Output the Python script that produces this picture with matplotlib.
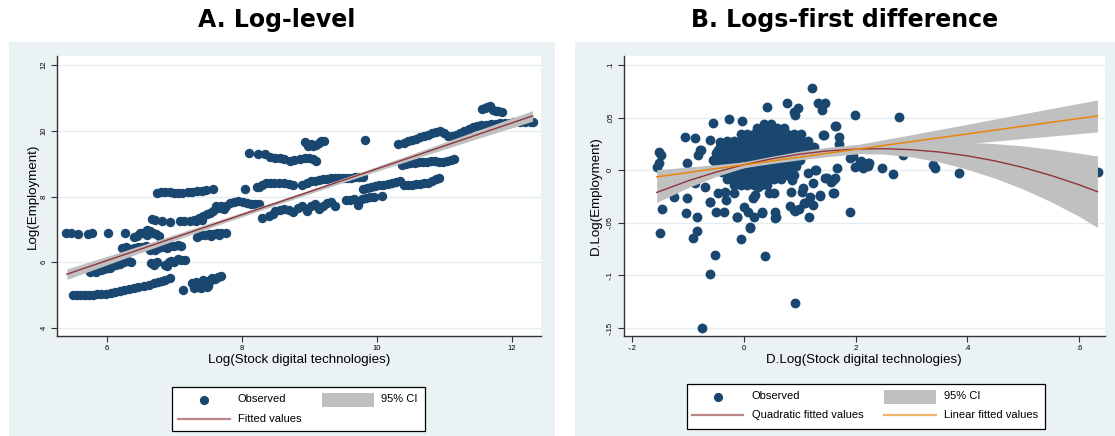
import numpy as np
import matplotlib
matplotlib.use('Agg')
import matplotlib.pyplot as plt
from matplotlib.patches import Rectangle
from matplotlib.lines import Line2D

plt.rcParams['font.family'] = ['Liberation Sans', 'DejaVu Sans']

W, H = 1115, 436

# ---- panel A : log-level, observed points (x, y)
a_obs = [
    # bottom strand
    (5.50, 5.00), (5.56, 5.01), (5.62, 5.00), (5.68, 5.02), (5.74, 5.00), (5.80, 5.02), (5.86, 5.03),
    (5.92, 5.04), (5.99, 5.05), (6.06, 5.07), (6.12, 5.10), (6.19, 5.12), (6.25, 5.16), (6.33, 5.19),
    (6.40, 5.23), (6.47, 5.26), (6.55, 5.29), (6.63, 5.31), (6.70, 5.36), (6.76, 5.39), (6.82, 5.43),
    (6.87, 5.46), (6.94, 5.51),
    (7.13, 5.17), (7.26, 5.36), (7.29, 5.21), (7.33, 5.40), (7.38, 5.36), (7.40, 5.22), (7.43, 5.45),
    (7.46, 5.30), (7.50, 5.27), (7.53, 5.47), (7.56, 5.51), (7.60, 5.50), (7.65, 5.54), (7.69, 5.58),
    (7.40, 5.28), (7.48, 5.25), (7.52, 5.40), (7.36, 5.25),
    # strands around 6
    (5.75, 5.70), (5.80, 5.74), (5.86, 5.76), (5.91, 5.78), (5.96, 5.80), (6.02, 5.84), (6.08, 5.88),
    (6.14, 5.92), (6.20, 5.96), (6.26, 6.00), (6.32, 6.03), (6.36, 6.01), (5.84, 5.72), (6.05, 5.82),
    (6.22, 6.42), (6.28, 6.46), (6.34, 6.40), (6.40, 6.44), (6.46, 6.48), (6.52, 6.46), (6.58, 6.50),
    (6.64, 6.38), (6.70, 6.42), (6.76, 6.44), (6.82, 6.46), (6.88, 6.48), (6.94, 6.50), (7.00, 6.50),
    (7.06, 6.52), (7.10, 6.50), (6.72, 6.36), (6.90, 6.42),
    (6.66, 5.98), (6.70, 5.92), (6.74, 6.02), (6.86, 5.93), (6.90, 5.88), (6.95, 6.04), (7.00, 6.00),
    (7.05, 6.10), (7.10, 6.06), (7.16, 6.07), (6.92, 6.00),
    # strands around 7
    (5.40, 6.90), (5.47, 6.88), (5.58, 6.86), (5.73, 6.87), (5.78, 6.88), (6.02, 6.89), (6.27, 6.88),
    (6.40, 6.76), (6.45, 6.80), (6.49, 6.90), (6.53, 6.88), (6.59, 6.98), (6.64, 6.95), (6.69, 6.88),
    (6.73, 6.85), (6.60, 6.82), (6.78, 6.80),
    (6.67, 7.31), (6.72, 7.30), (6.82, 7.26), (6.94, 7.22), (7.09, 7.25), (7.15, 7.27), (7.24, 7.27),
    (7.33, 7.26), (7.41, 7.28),
    (7.30, 7.30), (7.36, 7.36), (7.42, 7.42), (7.48, 7.46), (7.53, 7.49), (7.58, 7.55), (7.64, 7.64),
    (7.70, 7.70), (7.76, 7.72), (7.83, 7.79), (7.89, 7.82), (7.95, 7.86), (8.02, 7.84), (8.08, 7.80),
    (8.14, 7.78), (8.20, 7.77), (8.25, 7.76), (7.62, 7.70), (7.68, 7.66), (7.74, 7.62),
    (7.34, 6.78), (7.40, 6.82), (7.46, 6.84), (7.52, 6.85), (7.58, 6.86), (7.64, 6.88), (7.70, 6.90),
    (7.76, 6.88), (7.55, 6.80), (7.67, 6.82),
    # strand at 8.15 (left)
    (6.75, 8.12), (6.80, 8.15), (6.87, 8.14), (6.94, 8.13), (7.00, 8.11), (7.06, 8.10), (7.12, 8.12),
    (7.20, 8.15), (7.27, 8.14), (7.34, 8.16), (7.41, 8.18), (7.47, 8.20), (7.58, 8.22), (8.05, 8.22),
    # strands 9 - 9.7
    (8.11, 9.31), (8.24, 9.30), (8.35, 9.28), (8.42, 9.20), (8.50, 9.18), (8.56, 9.16), (8.62, 9.15),
    (8.72, 9.08), (8.78, 9.12), (8.86, 9.14), (8.94, 9.16), (9.00, 9.18), (9.05, 9.14), (9.10, 9.08),
    (8.94, 9.66), (8.98, 9.55), (9.02, 9.60), (9.06, 9.52), (9.10, 9.58), (9.14, 9.62), (9.18, 9.70),
    (9.22, 9.70), (9.82, 9.72),
    # strands 8.3 - 8.6
    (8.22, 8.28), (8.26, 8.30), (8.30, 8.36), (8.36, 8.40), (8.42, 8.42), (8.48, 8.40), (8.55, 8.42),
    (8.62, 8.40), (8.70, 8.38), (8.76, 8.35),
    (8.90, 8.36), (8.96, 8.42), (9.02, 8.46), (9.08, 8.48), (9.14, 8.50), (9.20, 8.52), (9.26, 8.54),
    (9.32, 8.55), (9.38, 8.56), (9.44, 8.56), (9.50, 8.55), (9.56, 8.57), (9.62, 8.56), (9.68, 8.58),
    (9.74, 8.58), (9.80, 8.58),
    # strands 7.4 - 8.0 (middle)
    (8.30, 7.34), (8.40, 7.40), (8.46, 7.48), (8.50, 7.55), (8.56, 7.60), (8.62, 7.62), (8.70, 7.58),
    (8.76, 7.54), (8.84, 7.66), (8.90, 7.70), (8.96, 7.55), (9.02, 7.72), (9.08, 7.78), (9.14, 7.62),
    (9.20, 7.70), (9.26, 7.80), (9.32, 7.84), (9.38, 7.72),
    (9.54, 7.90), (9.60, 7.90), (9.67, 7.91), (9.72, 7.74), (9.78, 7.92), (9.84, 7.96), (9.90, 7.98),
    (9.96, 8.00), (10.08, 8.03),
    # right hand strands
    (9.80, 8.24), (9.86, 8.27), (9.92, 8.30), (9.98, 8.32), (10.04, 8.34), (10.10, 8.36), (10.16, 8.38),
    (10.22, 8.41), (10.28, 8.44), (10.34, 8.48), (10.40, 8.34), (10.46, 8.34), (10.52, 8.36),
    (10.58, 8.37), (10.64, 8.38), (10.70, 8.40), (10.76, 8.42), (10.82, 8.46), (10.88, 8.52),
    (10.93, 8.55),
    (10.37, 8.96), (10.44, 9.00), (10.50, 9.02), (10.56, 9.02), (10.62, 9.04), (10.68, 9.05),
    (10.74, 9.06), (10.80, 9.08), (10.86, 9.07), (10.92, 9.06), (10.98, 9.06), (11.04, 9.07),
    (11.10, 9.10), (11.15, 9.14),
    (10.32, 9.60), (10.40, 9.64), (10.46, 9.68), (10.52, 9.72), (10.58, 9.76), (10.64, 9.80),
    (10.70, 9.84), (10.76, 9.88), (10.82, 9.92), (10.88, 9.96), (10.94, 10.00), (11.00, 9.92),
    (11.06, 9.84), (11.12, 9.84), (11.18, 9.88), (11.24, 9.92), (11.30, 9.98), (11.36, 10.04),
    (11.42, 10.10), (11.48, 10.14), (11.55, 10.16), (11.62, 10.18), (11.69, 10.20), (11.76, 10.21),
    (11.83, 10.22), (11.90, 10.22), (11.97, 10.24), (12.04, 10.25), (12.12, 10.26), (12.20, 10.26),
    (12.28, 10.27), (12.32, 10.27),
    (11.56, 10.66), (11.60, 10.70), (11.64, 10.72), (11.68, 10.74), (11.72, 10.62), (11.76, 10.60),
    (11.80, 10.59), (11.85, 10.58),
]
a_fit_x = [5.41, 12.31]
a_fit_y = [5.64, 10.45]
a_ci_x = [5.41, 6.2, 7.0, 7.8, 8.8, 9.8, 10.6, 11.4, 12.31]
a_ci_y = [5.64, 6.19, 6.75, 7.31, 8.00, 8.70, 9.26, 9.82, 10.45]
a_ci_hw = [0.16, 0.12, 0.09, 0.068, 0.058, 0.068, 0.09, 0.12, 0.16]
a_xticks = [6, 8, 10, 12]
a_yticks = [4, 6, 8, 10, 12]

# ---- panel B : logs-first difference
b_obs = [
    (0.1225, 0.0779), (0.0764, 0.0643), (0.0417, 0.0599), (0.1332, 0.0637), (0.1460, 0.0643),
    (0.1395, 0.0573), (0.0890, 0.0557), (0.0966, 0.0589), (0.0913, 0.0526), (-0.0259, 0.0485),
    (-0.0038, 0.0472), (-0.0549, 0.0447), (0.1983, 0.0523), (0.2785, 0.0510), (0.1635, 0.0421),
    (0.1711, 0.0314), (0.1711, 0.0247), (0.1427, 0.0336), (-0.1054, 0.0314), (-0.0878, 0.0304),
    (-0.1522, 0.0177), (-0.1477, 0.0146), (-0.1553, 0.0035), (-0.1522, 0.0067), (-0.1017, 0.0067),
    (-0.0783, 0.0193), (-0.0815, 0.0146), (-0.0404, 0.0257), (-0.0609, 0.0288), (-0.0430, 0.0272),
    (-0.0776, 0.0193), (-0.0460, 0.0193), (0.1900, 0.0114), (0.1983, 0.0035), (0.2090, 0.0092),
    (0.2140, 0.0025), (0.2216, 0.0041), (0.2229, 0.0073), (0.2481, 0.0025), (0.2677, -0.0038),
    (0.2848, 0.0146), (0.3384, 0.0051), (0.3429, 0.0019), (0.3845, -0.0022), (0.6333, -0.0013),
    (0.1667, 0.0019), (0.1460, -0.0076), (0.1553, -0.0108), (0.1635, -0.0076), (0.1616, -0.0212),
    (0.1364, -0.0238), (0.1238, -0.0329), (0.1080, -0.0307), (0.1175, -0.0250), (0.1067, -0.0171),
    (0.1048, -0.0203), (0.0840, -0.0203), (0.0827, -0.0339), (0.0890, -0.0377), (0.0985, -0.0371),
    (0.1162, -0.0440), (0.1900, -0.0399), (0.0562, -0.0393), (0.0575, -0.0440), (0.0322, -0.0399),
    (0.0164, -0.0266), (0.0208, -0.0234), (0.0069, -0.0393), (0.0006, -0.0345), (0.0183, -0.0440),
    (-0.0120, -0.0440), (-0.0183, -0.0219), (-0.0322, -0.0282), (-0.0341, -0.0203), (-0.0360, -0.0393),
    (-0.0499, -0.0393), (-0.0467, -0.0219), (-0.0612, -0.0304), (-0.0688, -0.0155), (-0.0878, -0.0124),
    (-0.1244, -0.0250), (-0.1017, -0.0266), (-0.1465, -0.0371), (-0.1036, -0.0409), (-0.0840, -0.0447),
    (-0.1503, -0.0599), (-0.0834, -0.0577), (-0.0903, -0.0646), (0.0114, -0.0551), (-0.0044, -0.0653),
    (-0.0518, -0.0805), (0.0385, -0.0814), (-0.0600, -0.0988), (0.0922, -0.1258), (-0.0745, -0.1498),
    (0.0543, -0.0219), (0.0448, -0.0219), (0.0259, -0.0155), (0.1269, 0.0003), (0.0859, -0.0092),
    (0.0764, -0.0044), (0.0890, -0.0044), (0.1143, -0.0029), (0.1238, -0.0124), (-0.0609, -0.0298),
    (-0.0131, -0.0441), (0.0107, -0.0536), (0.0317, -0.0409), (0.0555, -0.0450), (0.0913, -0.0387),
    (0.1092, -0.0314), (0.1361, -0.0244), (0.1599, -0.0219), (0.1480, -0.0076), (0.1588, -0.0092),
    (0.1289, 0.0003), (0.1946, 0.0136), (0.2077, 0.0082), (0.2244, 0.0067), (0.2150, 0.0029),
    (0.1420, 0.0336), (0.1647, 0.0421),
]
# dense core of the cloud, row by row (y, x values)
b_core = [
    (0.044, [0.036, 0.048]),
    (0.040, [0.024, 0.036, 0.048, 0.060, 0.072]),
    (0.034, [-0.006, 0.006, 0.018, 0.030, 0.042, 0.054, 0.066, 0.078, 0.090, 0.102]),
    (0.028, [-0.030, -0.018, -0.006, 0.006, 0.018, 0.030, 0.042, 0.054, 0.066, 0.078, 0.090, 0.102, 0.114]),
    (0.022, [-0.042, -0.030, -0.018, -0.006, 0.006, 0.018, 0.030, 0.042, 0.054, 0.066, 0.078, 0.090,
             0.102, 0.114, 0.126]),
    (0.016, [-0.050, -0.038, -0.026, -0.014, -0.002, 0.010, 0.022, 0.034, 0.046, 0.058, 0.070, 0.082,
             0.094, 0.106, 0.118]),
    (0.010, [-0.056, -0.044, -0.032, -0.020, -0.008, 0.004, 0.016, 0.028, 0.040, 0.052, 0.064, 0.076,
             0.088, 0.100]),
    (0.004, [-0.050, -0.038, -0.026, -0.014, -0.002, 0.010, 0.022, 0.034, 0.046, 0.058, 0.070, 0.082, 0.094]),
    (-0.002, [-0.040, -0.028, -0.016, -0.004, 0.008, 0.020, 0.032, 0.044, 0.056, 0.068, 0.080]),
    (-0.008, [-0.030, -0.018, -0.006, 0.006, 0.018, 0.030, 0.042, 0.054, 0.066]),
    (-0.014, [-0.018, -0.006, 0.006, 0.018, 0.030, 0.042]),
]
b_lin_x = [-0.156, -0.1, -0.05, 0, 0.05, 0.1, 0.15, 0.2, 0.3, 0.4, 0.5, 0.633]
b_lin_y = [-0.0063, -0.0022, 0.0015, 0.0052, 0.0088, 0.0125, 0.0162, 0.0198, 0.0272, 0.0345, 0.0419, 0.0516]
b_lin_hw = [0.0068, 0.0052, 0.0038, 0.0028, 0.0024, 0.0026, 0.0033, 0.0043, 0.0066, 0.0092, 0.0118, 0.0152]
b_quad_x = [-0.156, -0.1, -0.05, 0, 0.05, 0.1, 0.15, 0.2, 0.25, 0.3, 0.35, 0.4, 0.45, 0.5, 0.55, 0.6, 0.633]
b_quad_y = [-0.0211, -0.0101, -0.0018, 0.0052, 0.0109, 0.0153, 0.0184, 0.0201, 0.0205, 0.0195, 0.0173,
            0.0137, 0.0088, 0.0026, -0.0050, -0.0138, -0.0204]
b_quad_hw = [0.0095, 0.0065, 0.0042, 0.0028, 0.0024, 0.0028, 0.0035, 0.0042, 0.0052, 0.0068, 0.0095,
             0.0128, 0.0165, 0.0205, 0.0250, 0.0300, 0.0340]
b_xticks = [-0.2, 0, 0.2, 0.4, 0.6]
b_xlabels = ['-.2', '0', '.2', '.4', '.6']
b_yticks = [-0.15, -0.1, -0.05, 0, 0.05, 0.1]
b_ylabels = ['-.15', '-.1', '-.05', '0', '.05', '.1']

navy = '#1a476f'
maroon = '#90353b'
orange = '#e8860c'
ci_gray = '#c0c0c0'
bg = '#eaf2f3'


def fx(x):
    return x / W


def fy(y):
    return 1 - y / H


fig = plt.figure(figsize=(W / 100, H / 100), dpi=100)
fig.patch.set_facecolor('white')

# stata-like graph regions (behind the axes)
fig.patches.append(Rectangle((fx(9), 0), 546 / W, 394 / H, transform=fig.transFigure,
                             facecolor=bg, edgecolor='none', zorder=-5))
fig.patches.append(Rectangle((fx(575), 0), 540 / W, 394 / H, transform=fig.transFigure,
                             facecolor=bg, edgecolor='none', zorder=-5))

axA = fig.add_axes([fx(57.3), fy(335.7), 483.7 / W, 279.7 / H])
axB = fig.add_axes([fx(623.5), fy(335.7), 481.5 / W, 279.7 / H])
axA.set_zorder(1)
axB.set_zorder(1)


def style(ax, xticks, xlabels, yticks, ylabels, xlim, ylim, xlabel, ylabel, ylab_x):
    ax.set_facecolor('white')
    ax.set_xlim(*xlim)
    ax.set_ylim(*ylim)
    ax.spines['top'].set_visible(False)
    ax.spines['right'].set_visible(False)
    for s in ['left', 'bottom']:
        ax.spines[s].set_color('#333333')
        ax.spines[s].set_linewidth(1.0)
    ax.set_xticks(xticks, xlabels)
    ax.set_yticks(yticks, ylabels)
    ax.tick_params(length=4.3, width=0.8, labelsize=5.5, pad=2.5, color='#333333')
    ax.tick_params(axis='y', labelrotation=90)
    for lbl in ax.get_yticklabels():
        lbl.set_va('center')
    ax.grid(axis='y', color='#e4eef0', lw=1.0)
    ax.set_axisbelow(True)
    ax.set_xlabel(xlabel, fontsize=9.6)
    ax.xaxis.set_label_coords(0.5, -(360 - 335.7) / 279.7)
    ax.xaxis.label.set_va('center')
    ax.set_ylabel(ylabel, fontsize=9.6)
    ax.yaxis.set_label_coords(ylab_x, 0.5)
    ax.yaxis.label.set_va('center')


# panel A
ax = axA
ax.scatter([p[0] for p in a_obs], [p[1] for p in a_obs], s=46, color=navy, lw=0, zorder=2)
ci_y = np.array(a_ci_y)
ci_hw = np.array(a_ci_hw)
ax.fill_between(a_ci_x, ci_y - ci_hw, ci_y + ci_hw, color=ci_gray, lw=0, zorder=3)
ax.plot(a_fit_x, a_fit_y, color=maroon, lw=1.0, zorder=4)
style(ax, a_xticks, [str(t) for t in a_xticks], a_yticks, [str(t) for t in a_yticks],
      (5.268, 12.434), (3.77, 12.27), 'Log(Stock digital technologies)', 'Log(Employment)',
      (33.3 - 57.3) / 483.7)

# panel B
ax = axB
bx = [p[0] for p in b_obs]
by = [p[1] for p in b_obs]
for yv, xs in b_core:
    bx += xs
    by += [yv] * len(xs)
ax.scatter(bx, by, s=50, color=navy, lw=0, zorder=2)
ly = np.array(b_lin_y)
lh = np.array(b_lin_hw)
qy = np.array(b_quad_y)
qh = np.array(b_quad_hw)
ax.fill_between(b_quad_x, qy - qh, qy + qh, color=ci_gray, lw=0, zorder=3)
ax.fill_between(b_lin_x, ly - lh, ly + lh, color=ci_gray, lw=0, zorder=3)
ax.plot(b_quad_x, b_quad_y, color=maroon, lw=1.0, zorder=4)
ax.plot(b_lin_x, b_lin_y, color=orange, lw=1.1, zorder=5)
style(ax, b_xticks, b_xlabels, b_yticks, b_ylabels,
      (-0.2155, 0.6465), (-0.1573, 0.1086), 'D.Log(Stock digital technologies)', 'D.Log(Employment)',
      (595.4 - 623.5) / 481.5)

# titles
fig.text(fx(276.7), fy(20), 'A. Log-level', fontsize=17, fontweight='bold',
         family='DejaVu Sans', ha='center', va='center')
fig.text(fx(845), fy(20), 'B. Logs-first difference', fontsize=17, fontweight='bold',
         family='DejaVu Sans', ha='center', va='center')


# legends (drawn in pixel positions like the stata legend boxes)
def box(x0, y0, x1, y1):
    fig.patches.append(Rectangle((fx(x0), fy(y1)), (x1 - x0) / W, (y1 - y0) / H,
                                 transform=fig.transFigure, facecolor='white',
                                 edgecolor='black', lw=0.9, zorder=5))


def marker(x, y):
    fig.add_artist(Line2D([fx(x)], [fy(y)], marker='o', ms=5.6, color=navy, ls='none',
                          transform=fig.transFigure, zorder=6))


def patch(x0, y0, x1, y1):
    fig.patches.append(Rectangle((fx(x0), fy(y1)), (x1 - x0) / W, (y1 - y0) / H,
                                 transform=fig.transFigure, facecolor=ci_gray,
                                 edgecolor='none', zorder=6))


def hline(x0, x1, y, c):
    fig.add_artist(Line2D([fx(x0), fx(x1)], [fy(y), fy(y)], color=c, lw=1.6, alpha=0.6,
                          transform=fig.transFigure, zorder=6))


def label(x, y, s):
    fig.text(fx(x), fy(y), s, fontsize=8, ha='left', va='center', zorder=7)


box(172.3, 386.7, 425, 431.3)
marker(204, 400)
label(238, 398.5, 'Observed')
patch(321.7, 392.7, 374, 406.7)
label(381, 398.5, '95% CI')
hline(178, 230, 419, maroon)
label(238, 418.5, 'Fitted values')

box(686.7, 384, 1045, 428.7)
marker(717.7, 396.7)
label(751.7, 395.5, 'Observed')
patch(884, 390, 935.7, 403.7)
label(944, 395.5, '95% CI')
hline(692, 743, 415.3, maroon)
label(751.7, 414.8, 'Quadratic fitted values')
hline(884, 935.7, 415.3, orange)
label(944, 414.8, 'Linear fitted values')

fig.savefig('out.png', dpi=100)
